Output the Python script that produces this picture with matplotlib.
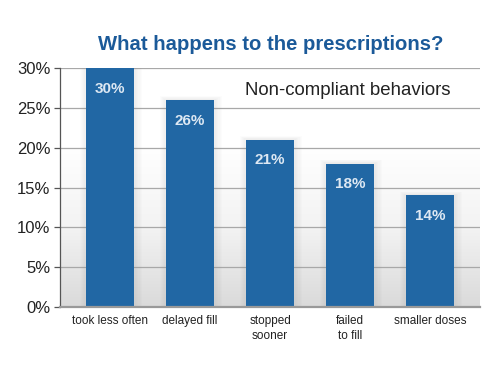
import matplotlib

matplotlib.use("Agg")

import matplotlib.pyplot as plt
import numpy as np
from matplotlib.colors import LinearSegmentedColormap


CATEGORIES = ["took less often", "delayed fill", "stopped\nsooner", "failed\nto fill", "smaller doses"]
VALUES = [30, 26, 21, 18, 14]
Y_TICKS = [0, 5, 10, 15, 20, 25, 30]

STYLE = {
    "bar": "#2167a4",
    "title": "#1b5a99",
    "label": "#dde8f3",
    "grid": "#a8a8a8",
    "spine": "#555555",
    "text": "#222222",
}


def main() -> None:
    fig = plt.figure(figsize=(5, 3.84), dpi=100)
    ax = fig.add_axes([0.12, 0.2005, 0.84, 0.6224])

    # soft gray gradient toward the bottom of the plot area
    cmap = LinearSegmentedColormap.from_list("bg", ["#ffffff", "#ffffff", "#f3f3f3", "#dadada"])
    grad = np.linspace(0, 1, 256).reshape(-1, 1)
    ax.imshow(grad, cmap=cmap, aspect="auto", extent=[0, 1, 0, 1],
              transform=ax.transAxes, zorder=0)

    x = np.arange(len(CATEGORIES))
    for y in Y_TICKS[1:]:
        ax.axhline(y, color=STYLE["grid"], linewidth=0.9, zorder=1)

    # blurred shadow behind the bars
    for k in range(1, 7):
        ax.bar(x + 0.01, [v + 0.08 * k for v in VALUES], width=0.6 + 0.03 * k,
               color="#808080", alpha=0.025, linewidth=0, zorder=2)
    ax.bar(x, VALUES, width=0.6, color=STYLE["bar"], linewidth=0, zorder=3)

    for xi, v in zip(x, VALUES):
        ax.text(xi, v - 2.6, f"{v}%", ha="center", va="center", color=STYLE["label"],
                fontsize=11, fontweight="bold", family="Liberation Sans", zorder=4)

    ax.set_xlim(-0.625, 4.625)
    ax.set_ylim(0, 30)
    ax.set_yticks(Y_TICKS)
    ax.set_yticklabels([f"{t}%" for t in Y_TICKS], family="Liberation Sans",
                       fontsize=12, color=STYLE["text"])
    ax.set_xticks(x)
    ax.set_xticklabels(CATEGORIES, family="Liberation Sans",
                       fontsize=8.5, color=STYLE["text"], linespacing=1.35, va="top")
    ax.tick_params(axis="x", length=0, pad=6)
    ax.tick_params(axis="y", length=4, width=0.9, color=STYLE["spine"], pad=3)

    for side in ("top", "right"):
        ax.spines[side].set_visible(False)
    ax.spines["left"].set_color(STYLE["spine"])
    ax.spines["left"].set_linewidth(0.9)
    ax.spines["bottom"].set_color("#999999")
    ax.spines["bottom"].set_linewidth(1.6)
    ax.spines["left"].set_zorder(5)
    ax.spines["bottom"].set_zorder(5)

    ax.text(0.441, 0.905, "Non-compliant behaviors", transform=ax.transAxes,
            fontsize=13.4, family="Liberation Sans", color=STYLE["text"], va="center")

    fig.text(0.542, 0.883, "What happens to the prescriptions?", ha="center", va="center",
             fontsize=14.6, fontweight="bold", family="Liberation Sans", color=STYLE["title"])

    fig.savefig("out.png", dpi=100)
    plt.close(fig)


if __name__ == "__main__":
    main()
